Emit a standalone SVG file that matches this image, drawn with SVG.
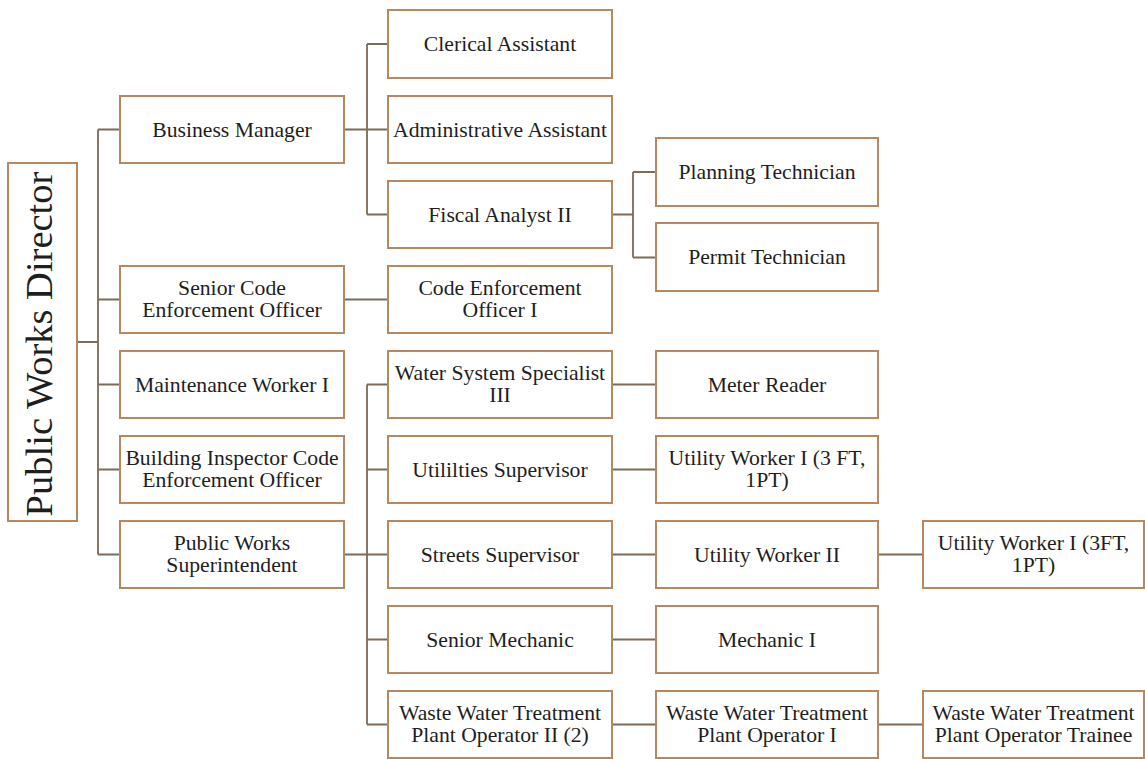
<svg xmlns="http://www.w3.org/2000/svg" width="1145" height="759" viewBox="0 0 1145 759">
<style>
.box{fill:#ffffff;stroke:#b9875f;stroke-width:2}
.t{font-family:"Liberation Serif","Times New Roman",serif;font-size:21.7px;fill:#1e1e1e;text-anchor:middle}
.root{font-size:38.5px}
.c{fill:none;stroke:#7d6a58;stroke-width:1.8}
</style>
<rect width="1145" height="759" fill="#ffffff"/>
<g id="connectors">
<path class="c" d="M77,342H98M98,129.5V554.5M98,129.5H120M98,299.5H120M98,384.5H120M98,469.5H120M98,554.5H120"/>
<path class="c" d="M344,129.5H367M367,44V214.5M367,44H388M367,129.5H388M367,214.5H388"/>
<path class="c" d="M612,214.5H633M633,172V257.5M633,172H656M633,257.5H656"/>
<path class="c" d="M344,299.5H388"/>
<path class="c" d="M344,554.5H367M367,384.5V724.5M367,384.5H388M367,469.5H388M367,554.5H388M367,639.5H388M367,724.5H388"/>
<path class="c" d="M612,384.5H656M612,469.5H656M612,554.5H656M612,639.5H656M612,724.5H656"/>
<path class="c" d="M878,554.5H923M878,724.5H923"/>
</g>
<g id="n-director"><rect class="box" x="8" y="163" width="69" height="358"/><text class="t root" transform="translate(52,344) rotate(-90)">Public Works Director</text></g>
<g id="n-business"><rect class="box" x="120" y="96" width="224" height="67"/><text class="t" x="232" y="137">Business Manager</text></g>
<g id="n-seniorcode"><rect class="box" x="120" y="266" width="224" height="67"/><text class="t" x="232" y="295">Senior Code</text><text class="t" x="232" y="317">Enforcement Officer</text></g>
<g id="n-maint"><rect class="box" x="120" y="351" width="224" height="67"/><text class="t" x="232" y="392">Maintenance Worker I</text></g>
<g id="n-building"><rect class="box" x="120" y="436" width="224" height="67"/><text class="t" x="232" y="465">Building Inspector Code</text><text class="t" x="232" y="487">Enforcement Officer</text></g>
<g id="n-pws"><rect class="box" x="120" y="521" width="224" height="67"/><text class="t" x="232" y="550">Public Works</text><text class="t" x="232" y="572">Superintendent</text></g>
<g id="n-clerical"><rect class="box" x="388" y="10" width="224" height="68"/><text class="t" x="500" y="51">Clerical Assistant</text></g>
<g id="n-admin"><rect class="box" x="388" y="96" width="224" height="67"/><text class="t" x="500" y="137">Administrative Assistant</text></g>
<g id="n-fiscal"><rect class="box" x="388" y="181" width="224" height="67"/><text class="t" x="500" y="222">Fiscal Analyst II</text></g>
<g id="n-codeenf"><rect class="box" x="388" y="266" width="224" height="67"/><text class="t" x="500" y="295">Code Enforcement</text><text class="t" x="500" y="317">Officer I</text></g>
<g id="n-wss"><rect class="box" x="388" y="351" width="224" height="67"/><text class="t" x="500" y="380">Water System Specialist</text><text class="t" x="500" y="402">III</text></g>
<g id="n-util"><rect class="box" x="388" y="436" width="224" height="67"/><text class="t" x="500" y="477">Utililties Supervisor</text></g>
<g id="n-streets"><rect class="box" x="388" y="521" width="224" height="67"/><text class="t" x="500" y="562">Streets Supervisor</text></g>
<g id="n-srmech"><rect class="box" x="388" y="606" width="224" height="67"/><text class="t" x="500" y="647">Senior Mechanic</text></g>
<g id="n-ww2"><rect class="box" x="388" y="691" width="224" height="67"/><text class="t" x="500" y="720">Waste Water Treatment</text><text class="t" x="500" y="742">Plant Operator II (2)</text></g>
<g id="n-planning"><rect class="box" x="656" y="138" width="222" height="68"/><text class="t" x="767" y="179">Planning Technician</text></g>
<g id="n-permit"><rect class="box" x="656" y="223" width="222" height="68"/><text class="t" x="767" y="264">Permit Technician</text></g>
<g id="n-meter"><rect class="box" x="656" y="351" width="222" height="67"/><text class="t" x="767" y="392">Meter Reader</text></g>
<g id="n-uw1"><rect class="box" x="656" y="436" width="222" height="67"/><text class="t" x="767" y="465">Utility Worker I (3 FT,</text><text class="t" x="767" y="487">1PT)</text></g>
<g id="n-uw2"><rect class="box" x="656" y="521" width="222" height="67"/><text class="t" x="767" y="562">Utility Worker II</text></g>
<g id="n-mech1"><rect class="box" x="656" y="606" width="222" height="67"/><text class="t" x="767" y="647">Mechanic I</text></g>
<g id="n-ww1"><rect class="box" x="656" y="691" width="222" height="67"/><text class="t" x="767" y="720">Waste Water Treatment</text><text class="t" x="767" y="742">Plant Operator I</text></g>
<g id="n-uw1b"><rect class="box" x="923" y="521" width="221" height="67"/><text class="t" x="1033.5" y="550">Utility Worker I (3FT,</text><text class="t" x="1033.5" y="572">1PT)</text></g>
<g id="n-wwtrainee"><rect class="box" x="923" y="691" width="221" height="67"/><text class="t" x="1033.5" y="720">Waste Water Treatment</text><text class="t" x="1033.5" y="742">Plant Operator Trainee</text></g>
</svg>
